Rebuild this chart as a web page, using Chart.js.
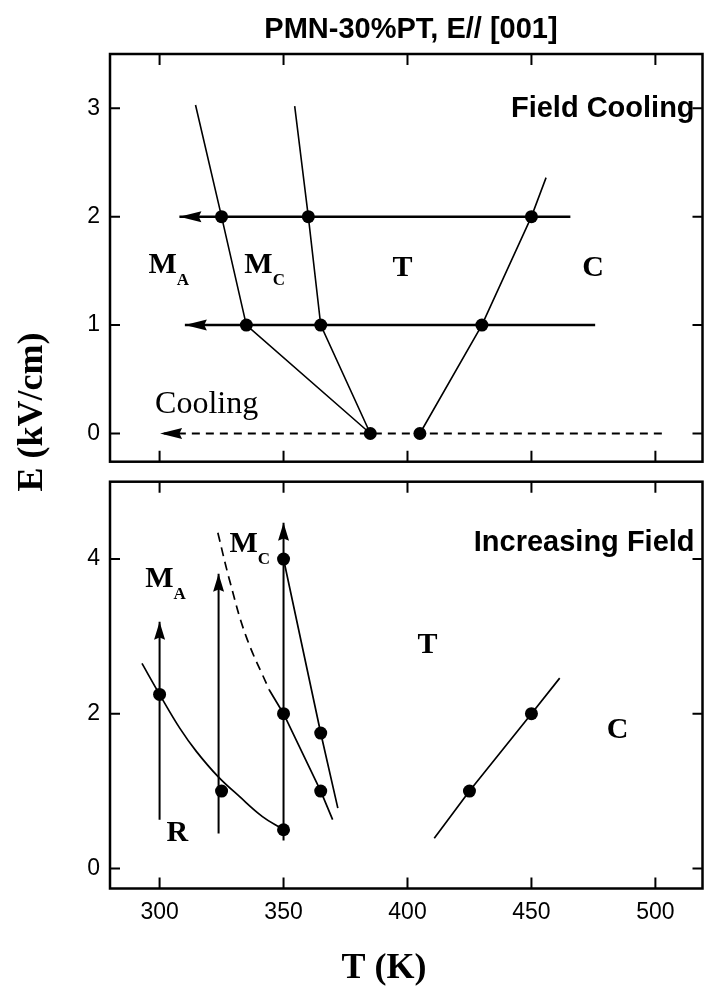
<!DOCTYPE html>
<html>
<head>
<meta charset="utf-8">
<script src="https://cdn.jsdelivr.net/npm/chart.js@4.4.1/dist/chart.umd.min.js"></script>
<style>
  html, body { margin: 0; padding: 0; background: #fff; }
  #wrap { position: relative; width: 709px; height: 988px; }
  canvas { position: absolute; left: 0; top: 0; }
</style>
</head>
<body>
<div id="wrap">
  <canvas id="fc" width="709" height="988"></canvas>
  <canvas id="inc" width="709" height="988"></canvas>
</div>
<script>
// temperature axis (K)
const T_MIN = 280, T_MAX = 519
const tempTicks = [300, 350, 400, 450, 500]

// field cooling panel, [T, E]
const fcRange = [-0.26, 3.5]
const fcTicks = [0, 1, 2, 3]
const fcPoints = [[325, 2], [360, 2], [450, 2], [335, 1], [365, 1], [430, 1], [385, 0], [405, 0]]
const fcSweep2 = [[465.7, 2], [308, 2]]
const fcSweep1 = [[475.7, 1], [310.2, 1]]
const fcSweep0 = [[502.6, 0], [300.2, 0]]
const fcMaMc = [[314.5, 3.03], [325, 2], [335, 1], [385, 0]]
const fcMcT = [[354.5, 3.02], [360, 2], [365, 1], [385, 0]]
const fcTC = [[405, 0], [430, 1], [450, 2], [455.9, 2.36]]

// increasing field panel, [T, E]
const ifRange = [-0.26, 5.0]
const ifTicks = [0, 2, 4]
const ifPoints = [[300, 2.25], [325, 1], [350, 0.5], [350, 2], [350, 4], [365, 1], [365, 1.75], [425, 1], [450, 2]]
const ifSweep300 = [[300, 0.63], [300, 3.19]]
const ifSweep325 = [[323.8, 0.45], [323.8, 3.81]]
const ifSweep350 = [[350, 0.36], [350, 4.47]]
const ifRMa = [[292.9, 2.65], [300, 2.25], [308.2, 1.81], [314.9, 1.51], [323.5, 1.19], [332.2, 0.93], [341.5, 0.67], [350, 0.5]]
const ifMaMcDash = [[323.5, 4.34], [328.2, 3.73], [334.9, 3.0], [344.2, 2.31]]
const ifMaMc = [[344.2, 2.31], [350, 2], [365, 1], [369.8, 0.63]]
const ifMcT = [[350, 4], [365, 1.75], [371.9, 0.78]]
const ifTC = [[410.8, 0.39], [425, 1], [450, 2], [461.4, 2.46]]

const SANS = "'Liberation Sans', Arial, Helvetica, sans-serif"
const SERIF = "'Liberation Serif', 'Times New Roman', serif"
const PHASE = "bold 30px " + SERIF
const SUB = "bold 17px " + SERIF
const NOTE = "bold 29px " + SANS

const markers = data => ({
    data : data,
    showLine : false,
    pointRadius : 6.5,
    pointBackgroundColor : "#000",
    pointBorderWidth : 0,
})

const line = (data, width, extra) => Object.assign({
    data : data,
    showLine : true,
    pointRadius : 0,
    borderColor : "#000",
    borderWidth : width,
    tension : 0,
}, extra || {})

// arrow heads at the last point of datasets with an "arrow" length
const arrowPlugin = {
    id : "arrows",
    afterDatasetsDraw(chart) {
        const ctx = chart.ctx
        chart.data.datasets.forEach((ds, i) => {
            if (!ds.arrow) return
            const pts = chart.getDatasetMeta(i).data
            const a = pts[pts.length - 2], b = pts[pts.length - 1]
            const ang = Math.atan2(b.y - a.y, b.x - a.x)
            const L = ds.arrow, W = 5.5
            ctx.save()
            ctx.translate(b.x, b.y)
            ctx.rotate(ang)
            ctx.fillStyle = "#000"
            ctx.beginPath()
            ctx.moveTo(0, 0)
            ctx.lineTo(-L, -W)
            ctx.lineTo(-L * 0.88, 0)
            ctx.lineTo(-L, W)
            ctx.closePath()
            ctx.fill()
            ctx.restore()
        })
    },
}

const framePlugin = yTicks => ({
    id : "frame",
    afterDraw(chart) {
        const { ctx, chartArea : a, scales : { x, y } } = chart
        ctx.save()
        ctx.strokeStyle = "#000"
        ctx.lineWidth = 2
        ctx.beginPath()
        tempTicks.forEach(v => {
            const px = x.getPixelForValue(v)
            ctx.moveTo(px, a.bottom); ctx.lineTo(px, a.bottom - 11)
            ctx.moveTo(px, a.top); ctx.lineTo(px, a.top + 11)
        })
        yTicks.forEach(v => {
            const py = y.getPixelForValue(v)
            ctx.moveTo(a.left, py); ctx.lineTo(a.left + 10, py)
            ctx.moveTo(a.right, py); ctx.lineTo(a.right - 10, py)
        })
        ctx.stroke()
        ctx.lineWidth = 2.5
        ctx.strokeRect(a.left, a.top, a.right - a.left, a.bottom - a.top)
        ctx.restore()
    },
})

const labelPlugin = (items, extra) => ({
    id : "labels",
    afterDraw(chart) {
        const { ctx, scales : { x, y } } = chart
        ctx.save()
        ctx.fillStyle = "#000"
        ctx.textBaseline = "alphabetic"
        items.forEach(it => {
            const px = x.getPixelForValue(it.t), py = y.getPixelForValue(it.e)
            ctx.font = it.font
            ctx.textAlign = it.align || "left"
            ctx.fillText(it.text, px, py)
            if (it.sub) {
                const w = ctx.measureText(it.text).width
                ctx.font = SUB
                ctx.textAlign = "left"
                ctx.fillText(it.sub, px + w, py + 12)
            }
        })
        if (extra) extra(ctx)
        ctx.restore()
    },
})

const scales = (range, yTicks, showX) => ({
    x : {
        type : "linear",
        min : T_MIN,
        max : T_MAX,
        display : showX,
        afterBuildTicks : s => { s.ticks = tempTicks.map(v => ({ value : v })) },
        afterFit : s => { if (showX) s.height = 99.5 },
        grid : { display : false, drawTicks : false },
        border : { display : false },
        ticks : { color : "#000", padding : 10, maxRotation : 0, font : { family : SANS, size : 23 } },
    },
    y : {
        type : "linear",
        min : range[0],
        max : range[1],
        afterBuildTicks : s => { s.ticks = yTicks.map(v => ({ value : v })) },
        afterFit : s => { s.width = 110 },
        grid : { display : false, drawTicks : false },
        border : { display : false },
        ticks : { color : "#000", padding : 10, font : { family : SANS, size : 23 } },
    },
})

const baseOptions = (range, yTicks, showX, padding) => ({
    responsive : false,
    animation : false,
    events : [],
    layout : { padding : padding },
    scales : scales(range, yTicks, showX),
    plugins : { legend : { display : false }, tooltip : { enabled : false } },
})

const fcChart = new Chart(document.getElementById("fc").getContext("2d"), {
    type : "scatter",
    data : {
        datasets : [
            markers(fcPoints),
            line(fcSweep2, 2.5, { arrow : 22 }),
            line(fcSweep1, 2.5, { arrow : 22 }),
            line(fcSweep0, 2, { arrow : 22, borderDash : [8, 6] }),
            line(fcMaMc, 1.6),
            line(fcMcT, 1.6),
            line(fcTC, 1.6),
        ],
    },
    options : baseOptions(fcRange, fcTicks, false, { top : 54, bottom : 526.3, left : 0, right : 2 }),
    plugins : [arrowPlugin, framePlugin(fcTicks), labelPlugin([
        { text : "M", sub : "A", t : 295.5, e : 1.477, font : PHASE },
        { text : "M", sub : "C", t : 334.2, e : 1.477, font : PHASE },
        { text : "T", t : 398, e : 1.452, font : PHASE, align : "center" },
        { text : "C", t : 474.9, e : 1.452, font : PHASE, align : "center" },
        { text : "Cooling", t : 298.2, e : 0.185, font : "32px " + SERIF },
        { text : "Field Cooling", t : 515.8, e : 2.918, font : NOTE, align : "right" },
    ], ctx => {
        ctx.font = "bold 29px " + SANS
        ctx.textAlign = "center"
        ctx.fillText("PMN-30%PT, E// [001]", 411, 38.3)
    })],
})

const incChart = new Chart(document.getElementById("inc").getContext("2d"), {
    type : "scatter",
    data : {
        datasets : [
            markers(ifPoints),
            line(ifSweep300, 2, { arrow : 18 }),
            line(ifSweep325, 2, { arrow : 18 }),
            line(ifSweep350, 2, { arrow : 18 }),
            line(ifRMa, 1.7, { tension : 0.4 }),
            line(ifMaMcDash, 1.7, { tension : 0.4, borderDash : [9, 6] }),
            line(ifMaMc, 1.7),
            line(ifMcT, 1.7),
            line(ifTC, 1.7),
        ],
    },
    options : baseOptions(ifRange, ifTicks, true, { top : 481.7, bottom : 0, left : 0, right : 2 }),
    plugins : [arrowPlugin, framePlugin(ifTicks), labelPlugin([
        { text : "M", sub : "A", t : 294.2, e : 3.638, font : PHASE },
        { text : "M", sub : "C", t : 328.2, e : 4.085, font : PHASE },
        { text : "T", t : 408.1, e : 2.79, font : PHASE, align : "center" },
        { text : "C", t : 484.7, e : 1.69, font : PHASE, align : "center" },
        { text : "R", t : 307.2, e : 0.357, font : PHASE, align : "center" },
        { text : "Increasing Field", t : 515.8, e : 4.11, font : NOTE, align : "right" },
    ], ctx => {
        ctx.font = "bold 36px " + SERIF
        ctx.textAlign = "center"
        ctx.fillText("T (K)", 384, 978)
        ctx.save()
        ctx.translate(42, 412)
        ctx.rotate(-Math.PI / 2)
        ctx.fillText("E (kV/cm)", 0, 0)
        ctx.restore()
    })],
})
</script>
</body>
</html>
